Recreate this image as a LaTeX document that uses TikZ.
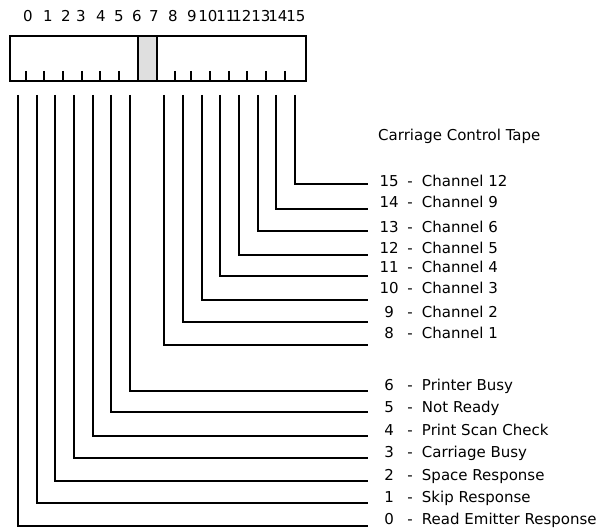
\documentclass[tikz,border=0pt]{standalone}
\usepackage{fontspec}
\setmainfont{DejaVu Sans}

\tikzset{
	wire/.style={line width=2pt},
	lbl/.style={inner sep=0pt, anchor=base west, font=\fontsize{15}{18}\selectfont},
	bitno/.style={inner sep=0pt, anchor=base, font=\fontsize{15}{18}\selectfont}
}

\begin{document}
\begin{tikzpicture}[x=1pt, y=-1pt]
	\useasboundingbox (0,0) rectangle (608,529);
	% the tape register
	\draw[wire] (10,36) rectangle (306,81);
	\draw[wire, fill=gray!25] (138,36) rectangle (157,81);
	\foreach \x in {26,44,63,82,100,119,175,191,210,229,247,266,285}
		\draw[wire] (\x,71) -- (\x,81);
	% bit numbers
	\foreach \n/\x in {0/28,1/48,2/66,3/81,4/101,5/119,6/137,7/154,8/173,9/192,10/208,11/226,12/242,13/261,14/278,15/296}
		\node[bitno] (n\n) at (\x,22) {\n};
	\node[lbl] (title) at (378,141) {Carriage Control Tape};
	% lines from each bit to its label
	\foreach \n/\x/\y in {0/18/526,1/37/503,2/55/481,3/74/458,4/93/436,5/111/412,6/130/391,8/164/345,9/183/322,10/202/300,11/220/276,12/239/255,13/258/231,14/276/209,15/295/184}{
		\coordinate (b\n) at (\x,95);
		\coordinate (e\n) at (368,\y);
		\draw[wire] (b\n) |- (e\n);
	}
	% labels
	\foreach \n/\y/\t in {15/187/Channel 12,14/208/Channel 9,13/233/Channel 6,12/254/Channel 5,11/273/Channel 4,10/294/Channel 3,9/318/Channel 2,8/339/Channel 1,6/390/Printer Busy,5/413/Not Ready,4/435/Print Scan Check,3/457/Carriage Busy,2/480/Space Response,1/502/Skip Response,0/524/Read Emitter Response}
		\node[lbl] (t\n) at (375,\y) {\makebox[28pt][c]{\n}\makebox[14pt][c]{-}\ \t};
\end{tikzpicture}
\end{document}
